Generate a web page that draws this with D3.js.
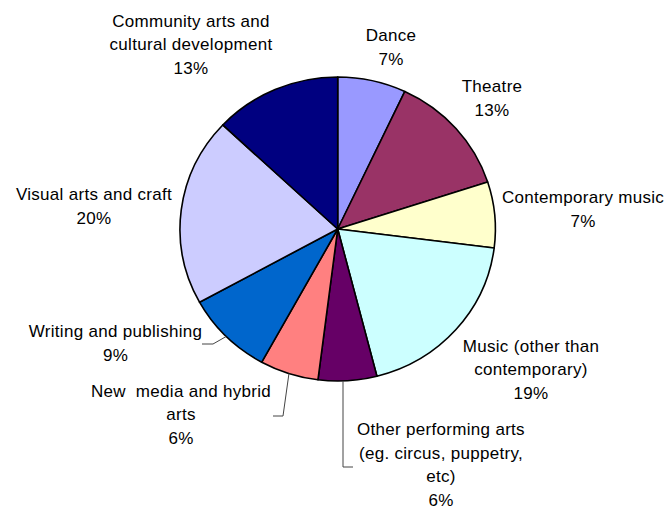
<!DOCTYPE html>
<html>
<head>
<meta charset="utf-8">
<script src="https://cdn.jsdelivr.net/npm/d3@7"></script>
<style>
  html, body { margin: 0; padding: 0; background: #fff; }
  svg { display: block; }
  text { font-family: "Liberation Sans", Arial, sans-serif; font-size: 17px; letter-spacing: 0.3px; fill: #000; white-space: pre; }
</style>
</head>
<body>
<svg id="chart" width="667" height="509"></svg>
<script>
// Share of grants by artform (per cent), clockwise from 12 o'clock
const categories = [
  "Dance",
  "Theatre",
  "Contemporary music",
  "Music (other than contemporary)",
  "Other performing arts (eg. circus, puppetry, etc)",
  "New  media and hybrid arts",
  "Writing and publishing",
  "Visual arts and craft",
  "Community arts and cultural development"
];
const values = [7, 13, 7, 19, 6, 6, 9, 20, 13];
const colors = ["#9999FF", "#993366", "#FFFFCC", "#CCFFFF", "#660066", "#FF8080", "#0066CC", "#CCCCFF", "#000080"];

// Label placement: wrapped lines, centre x, first baseline, optional leader elbow
const labelLayout = {
  "Dance": { lines: ["Dance"], x: 391, y: 41 },
  "Theatre": { lines: ["Theatre"], x: 492, y: 92 },
  "Contemporary music": { lines: ["Contemporary music"], x: 583, y: 203 },
  "Music (other than contemporary)": { lines: ["Music (other than", "contemporary)"], x: 531, y: 351.5 },
  "Other performing arts (eg. circus, puppetry, etc)": {
    lines: ["Other performing arts", "(eg. circus, puppetry,", "etc)"], x: 441, y: 435,
    leader: [[353, 467], [343, 467]], drop: true
  },
  "New  media and hybrid arts": {
    lines: ["New  media and hybrid", "arts"], x: 181, y: 396.5,
    leader: [[273, 416], [283, 416]]
  },
  "Writing and publishing": {
    lines: ["Writing and publishing"], x: 115.5, y: 337,
    leader: [[202, 344], [213, 344]]
  },
  "Visual arts and craft": { lines: ["Visual arts and craft"], x: 94, y: 200 },
  "Community arts and cultural development": { lines: ["Community arts and", "cultural development"], x: 191, y: 26.5 }
};

const lineHeight = 23.5;
const cx = 337.7, cy = 229, rx = 157.7, ry = 152;

const svg = d3.select("#chart");

const pie = d3.pie().sort(null).value(d => d.value).startAngle(0).endAngle(2 * Math.PI);
const data = categories.map((c, i) => ({ name: c, value: values[i], color: colors[i] }));
const arcs = pie(data);

const arc = d3.arc().innerRadius(0).outerRadius(rx);

// Slightly flattened pie, as drawn by the spreadsheet
const pieG = svg.append("g")
  .attr("transform", `translate(${cx},${cy}) scale(1,${ry / rx})`);

pieG.selectAll("path.slice")
  .data(arcs)
  .join("path")
  .attr("class", "slice")
  .attr("d", arc)
  .attr("fill", d => d.data.color)
  .attr("stroke", "#000")
  .attr("stroke-width", 1.6)
  .attr("stroke-linejoin", "round")
  .attr("vector-effect", "non-scaling-stroke");

// Point on the pie outline at a slice's mid angle
function edgePoint(d) {
  const a = (d.startAngle + d.endAngle) / 2;
  return [cx + rx * Math.sin(a), cy - ry * Math.cos(a)];
}
// Point on the lower outline straight above a given x
function dropPoint(x) {
  const u = (x - cx) / rx;
  return [x, cy + ry * Math.sqrt(Math.max(0, 1 - u * u))];
}

const total = d3.sum(values);
const labelsG = svg.append("g");

arcs.forEach(d => {
  const L = labelLayout[d.data.name];
  const pct = Math.round(d.data.value / total * 100) + "%";
  const lines = L.lines.concat([pct]);
  const t = labelsG.append("text").attr("text-anchor", "middle");
  lines.forEach((ln, i) => {
    t.append("tspan").attr("x", L.x).attr("y", L.y + i * lineHeight).text(ln);
  });
  if (L.leader) {
    const end = L.drop ? dropPoint(L.leader[L.leader.length - 1][0]) : edgePoint(d);
    const pts = L.leader.concat([end]);
    labelsG.append("path")
      .attr("d", d3.line()(pts))
      .attr("fill", "none")
      .attr("stroke", "#444")
      .attr("stroke-width", 1);
  }
});
</script>
</body>
</html>
